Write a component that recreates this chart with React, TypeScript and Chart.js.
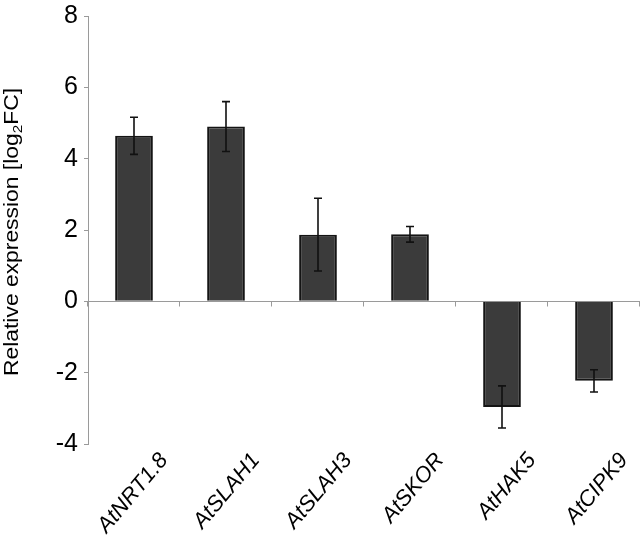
import React, { useEffect, useRef } from "react";
import { Chart, registerables } from "chart.js";

Chart.register(...registerables);

const categories = ["AtNRT1.8", "AtSLAH1", "AtSLAH3", "AtSKOR", "AtHAK5", "AtCIPK9"];
const values = [4.64, 4.9, 1.87, 1.88, -2.96, -2.23];
const errors = [0.52, 0.7, 1.02, 0.22, 0.59, 0.31];
const yMin = -4;
const yMax = 8;
const yStep = 2;
const titleMain = "Relative expression [log";
const titleSub = "2";
const titleEnd = "FC]";

const FONT = "'Liberation Sans', Arial, sans-serif";

const customPlugin = {
  id: "custom",
  beforeDatasetsDraw(chart: any) {
    const { ctx, chartArea, scales } = chart;
    const y = scales.y;
    const x = scales.x;
    const y0 = Math.round(y.getPixelForValue(0)) + 0.5;
    ctx.save();
    ctx.strokeStyle = "#9a9a9a";
    ctx.lineWidth = 1;
    ctx.beginPath();
    ctx.moveTo(chartArea.left, y0);
    ctx.lineTo(chartArea.right, y0);
    const n = categories.length;
    for (let i = 0; i <= n; i++) {
      const px = i < n ? x.getPixelForValue(i) - x.width / n / 2 : x.getPixelForValue(n - 1) + x.width / n / 2;
      const rx = Math.round(px) - 0.5;
      ctx.moveTo(rx, y0);
      ctx.lineTo(rx, y0 + 5);
    }
    ctx.stroke();
    ctx.restore();
  },
  afterDatasetsDraw(chart: any) {
    const { ctx, scales } = chart;
    const y = scales.y;
    const x = scales.x;
    ctx.save();
    ctx.strokeStyle = "#111";
    ctx.lineWidth = 1.6;
    values.forEach((v, i) => {
      const cx = Math.round(x.getPixelForValue(i));
      const t = y.getPixelForValue(v + errors[i]);
      const b = y.getPixelForValue(v - errors[i]);
      ctx.beginPath();
      ctx.moveTo(cx, t);
      ctx.lineTo(cx, b);
      ctx.moveTo(cx - 4, t);
      ctx.lineTo(cx + 4, t);
      ctx.moveTo(cx - 4, b);
      ctx.lineTo(cx + 4, b);
      ctx.stroke();
    });
    ctx.restore();
  },
  afterDraw(chart: any) {
    const { ctx } = chart;
    ctx.save();
    const cy = 232;
    ctx.translate(18, cy);
    ctx.rotate(-Math.PI / 2);
    ctx.fillStyle = "#000";
    ctx.textBaseline = "alphabetic";
    const mainFont = `19.5px ${FONT}`;
    const subFont = `13px ${FONT}`;
    ctx.font = mainFont;
    const w1 = ctx.measureText(titleMain).width;
    const w3 = ctx.measureText(titleEnd).width;
    ctx.font = subFont;
    const w2 = ctx.measureText(titleSub).width;
    const total = w1 + w2 + w3;
    const sx = 288 / total;
    ctx.scale(sx, 1);
    let xx = -total / 2;
    ctx.font = mainFont;
    ctx.fillText(titleMain, xx, 0);
    xx += w1;
    ctx.font = subFont;
    ctx.fillText(titleSub, xx, 4);
    xx += w2;
    ctx.font = mainFont;
    ctx.fillText(titleEnd, xx, 0);
    ctx.restore();
  },
};

export default function App() {
  const ref = useRef<HTMLCanvasElement>(null);
  useEffect(() => {
    document.body.style.margin = "0";
    const chart = new Chart(ref.current!, {
      type: "bar",
      data: {
        labels: categories,
        datasets: [
          {
            data: values,
            backgroundColor: "#3b3b3b",
            borderColor: "#141414",
            borderWidth: 2,
            barPercentage: 0.41,
            categoryPercentage: 1,
          },
        ],
      },
      options: {
        responsive: false,
        animation: false,
        layout: { padding: { top: 15, right: 1, left: 0, bottom: 0 } },
        plugins: { legend: { display: false }, tooltip: { enabled: false } },
        scales: {
          x: {
            grid: { display: false },
            border: { display: false },
            ticks: {
              minRotation: 50,
              maxRotation: 50,
              autoSkip: false,
              labelOffset: 30,
              padding: -4,
              color: "#000",
              font: { family: FONT, size: 22, style: "italic" },
            },
            afterFit: (s: any) => {
              s.height = 102;
            },
          },
          y: {
            min: yMin,
            max: yMax,
            ticks: {
              stepSize: yStep,
              color: "#000",
              padding: 6,
              font: { family: FONT, size: 25, lineHeight: 0.8 },
            },
            grid: {
              drawOnChartArea: false,
              drawTicks: true,
              tickLength: 4,
              color: "#9a9a9a",
            },
            border: { display: true, color: "#9a9a9a", width: 1 },
            afterFit: (s: any) => {
              s.width = 88;
            },
          },
        },
      },
      plugins: [customPlugin],
    });
    return () => chart.destroy();
  }, []);
  return (
    <div style={{ width: 641, height: 546 }}>
      <canvas ref={ref} width={641} height={546} />
    </div>
  );
}
